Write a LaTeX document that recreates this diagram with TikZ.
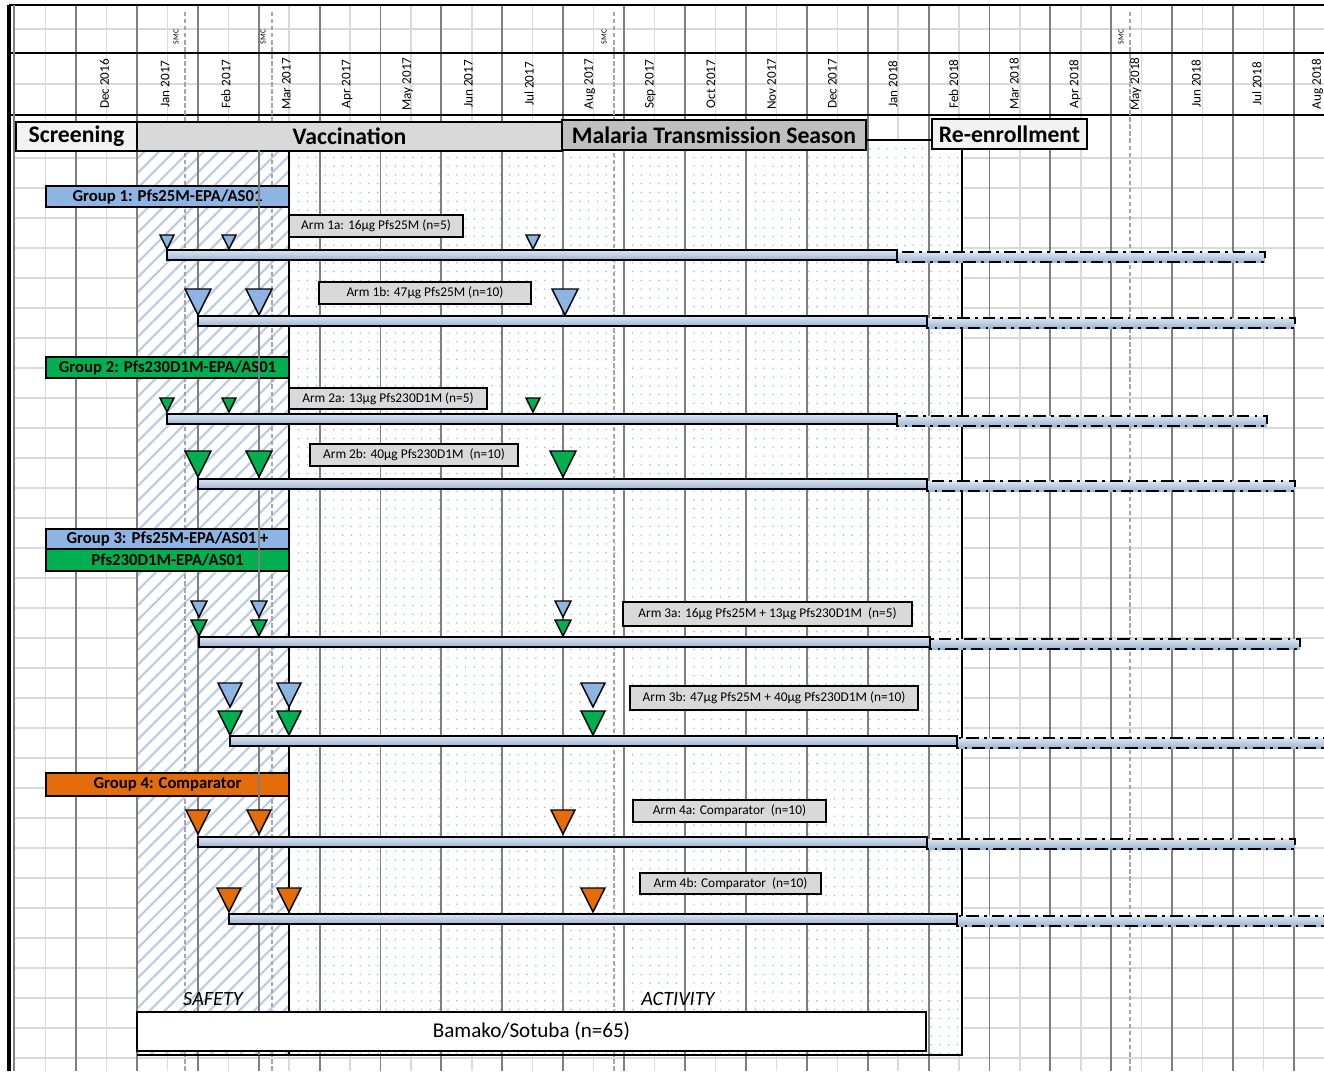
\documentclass[tikz,border=0pt]{standalone}
\usepackage{fontspec}
\setmainfont{Carlito}
\usetikzlibrary{patterns.meta}
\usepackage{xcolor}
\definecolor{gridlight}{HTML}{D9D9D9}
\definecolor{monthline}{HTML}{7F7F7F}
\definecolor{reviewgray}{HTML}{A6A6A6}
\definecolor{grpblue}{HTML}{8DB4E2}
\definecolor{grpgreen}{HTML}{00B050}
\definecolor{grporange}{HTML}{E46C0A}
\definecolor{armgray}{HTML}{D9D9D9}
\definecolor{phaselight}{HTML}{F2F2F2}
\definecolor{phasemid}{HTML}{D9D9D9}
\definecolor{phasedark}{HTML}{BFBFBF}
\definecolor{barhi}{HTML}{DCE6F2}
\definecolor{barlo}{HTML}{9DB5D5}
\definecolor{hatchblue}{HTML}{B8CCE4}
\definecolor{dotblue}{HTML}{95B3D7}

\begin{document}
\begin{tikzpicture}[
  x=0.02cm, y=-0.02cm,
  sz/.style 2 args={minimum width=#1*0.02cm, minimum height=#2*0.02cm},
  box/.style={draw, line width=1pt, inner sep=0pt},
  phase/.style={box, font=\fontsize{13.5}{15}\selectfont\bfseries},
  grp/.style={box, font=\fontsize{9.5}{11}\selectfont\bfseries},
  arm/.style={box, fill=armgray, line width=0.9pt, font=\fontsize{7.6}{9}\selectfont},
  month/.style={rotate=90, inner sep=0pt, font=\fontsize{7.5}{8}\selectfont},
  review/.style={rotate=90, inner sep=0pt, font=\fontsize{4.5}{5}\selectfont},
  tag/.style={inner sep=0pt, font=\fontsize{11.5}{13}\selectfont\itshape},
  bar/.style={draw, line width=1.1pt, top color=barhi, bottom color=barlo},
  barext/.style={bar, dash pattern=on 7pt off 3pt on 1.5pt off 3pt},
  vac/.style={draw, line width=0.8pt},
  gridl/.style={gridlight, line width=0.8pt},
  monthl/.style={monthline, line width=1.1pt},
  reviewl/.style={reviewgray, line width=1.4pt, dash pattern=on 2.5pt off 1.5pt}
]
\useasboundingbox (0,0) rectangle (1324,1071);
\clip (0,0) rectangle (1324,1071);

% light grid
\foreach \k in {-1,...,20}
  \draw[gridl] ({106.45+60.9*\k},5) -- ({106.45+60.9*\k},1071);
\foreach \gy in {29,84}
  \draw[gridl] (14,\gy) -- (1324,\gy);
\foreach \k in {0,...,30}
  \draw[gridl] (14,{158+30*\k}) -- (1324,{158+30*\k});

% safety (hatched) and activity (dotted) windows
\fill[white] (137,150) rectangle (289,1055);
\fill[pattern={Lines[angle=45,distance=6pt,line width=1.2pt]}, pattern color=hatchblue] (137,150) rectangle (289,1055);
\fill[white] (289,140) rectangle (962,1055);
\fill[pattern={Dots[radius=0.45pt,distance=5pt]}, pattern color=dotblue] (289,140) rectangle (962,1055);

% month lines and frame
\foreach \k in {0,...,20}
  \draw[monthl] ({76+60.9*\k},5) -- ({76+60.9*\k},1071);
\draw[line width=1.6pt] (9,5) -- (1324,5);
\draw[line width=1.3pt] (9,53) -- (1324,53);
\draw[line width=1.3pt] (9,115) -- (1324,115);
\draw[line width=1.8pt] (9,5) -- (9,1071);
\draw[monthl] (14,5) -- (14,1071);

% review time points
\foreach \rx in {185,272,614,1130}
  \draw[reviewl] (\rx,12) -- (\rx,1071);
\foreach \rx/\rn in {176/rv1,263/rv2,604/rv3,1121/rv4}
  \node[review] (\rn) at (\rx,37) {SMC};

\draw[line width=1.2pt] (289,150) -- (289,1055);
\draw[line width=1.2pt] (866,140) -- (932,140);
\draw[line width=1.2pt] (962,149) -- (962,1055) -- (137,1055);

\foreach \m [count=\i from 0] in {Dec 2016, Jan 2017, Feb 2017, Mar 2017, Apr 2017, May 2017, Jun 2017, Jul 2017, Aug 2017, Sep 2017, Oct 2017, Nov 2017, Dec 2017, Jan 2018, Feb 2018, Mar 2018, Apr 2018, May 2018, Jun 2018, Jul 2018, Aug 2018}
  \node[month] (m\i) at ({104.5+60.65*\i},84) {\m};

% study phases
\node[phase, fill=phaselight, sz={121}{29}] (screen) at (76.5,136.5) {Screening};
\node[phase, fill=phasemid, sz={425}{29}] (vacc) at (349.5,136.5) {Vaccination};
\node[phase, fill=phasedark, sz={304}{30}] (season) at (714,135) {Malaria Transmission Season};
\node[phase, fill=phaselight, sz={155}{30}] (reenrol) at (1009.5,134) {Re-enrollment};

% groups
\node[grp, fill=grpblue, sz={243}{21}] (g1) at (167.5,196.5) {Group 1: Pfs25M-EPA/AS01};
\node[grp, fill=grpgreen, sz={243}{21}] (g2) at (167.5,367.5) {Group 2: Pfs230D1M-EPA/AS01};
\node[grp, fill=grpblue, sz={243}{20}] (g3a) at (167.5,539) {Group 3: Pfs25M-EPA/AS01 +};
\node[grp, fill=grpgreen, sz={243}{22}] (g3b) at (167.5,560) {Pfs230D1M-EPA/AS01};
\node[grp, fill=grporange, sz={243}{23}] (g4) at (167.5,784.5) {Group 4: Comparator};
\draw[monthline, line width=0.8pt] (259,150) -- (259,1055);

% arms
\node[arm, sz={174}{22}] (a1a) at (376,226) {Arm 1a: 16µg Pfs25M (n=5)};
\node[arm, sz={212}{22}] (a1b) at (425,293) {Arm 1b: 47µg Pfs25M (n=10)};
\node[arm, sz={198}{21}] (a2a) at (388,398.5) {Arm 2a: 13µg Pfs230D1M (n=5)};
\node[arm, sz={208}{22}] (a2b) at (414,455) {Arm 2b: 40µg Pfs230D1M~~(n=10)};
\node[arm, sz={289}{24}] (a3a) at (767.5,614) {Arm 3a: 16µg Pfs25M + 13µg Pfs230D1M~~(n=5)};
\node[arm, sz={288}{24}] (a3b) at (774,698) {Arm 3b: 47µg Pfs25M + 40µg Pfs230D1M (n=10)};
\node[arm, sz={193}{22}] (a4a) at (729.5,811) {Arm 4a: Comparator~~(n=10)};
\node[arm, sz={181}{21}] (a4b) at (730.5,883.5) {Arm 4b: Comparator~~(n=10)};

% follow-up bars: solid to end of season, dash-dot after
\foreach \xs/\xe/\xf/\yb in {167/897/1265/250, 198/927/1295/316, 167/897/1267/414, 198/927/1295/479,
    199/930/1300/637, 230/957/1340/736, 198/927/1295/837, 229/957/1340/914}
{
  \draw[barext] (\xe,{\yb+2}) rectangle (\xf,{\yb+12});
  \draw[bar] (\xs,\yb) rectangle (\xe,{\yb+10});
}

% vaccinations
\foreach \tx/\ty/\tw/\tc in {167/249/7/grpblue, 229/249/7/grpblue, 533/249/7/grpblue,
    198/315/13/grpblue, 259/315/13/grpblue, 565/315/13/grpblue,
    167/412/7/grpgreen, 229/412/7/grpgreen, 533/412/7/grpgreen,
    198/477/13/grpgreen, 259/477/13/grpgreen, 563/477/13/grpgreen,
    199/617/8/grpblue, 259/617/8/grpblue, 563/617/8/grpblue,
    199/636/8/grpgreen, 259/636/8/grpgreen, 563/636/8/grpgreen,
    230/707/12/grpblue, 289/707/12/grpblue, 593/707/12/grpblue,
    230/735/12/grpgreen, 289/735/12/grpgreen, 593/735/12/grpgreen,
    198/834/12/grporange, 259/834/12/grporange, 563/834/12/grporange,
    229/912/12/grporange, 289/912/12/grporange, 593/912/12/grporange}
  \filldraw[vac, fill=\tc] (\tx,\ty) -- ++(-\tw,{-2*\tw}) -- ++({2*\tw},0) -- cycle;

% bottom
\node[tag] (safety) at (213,999) {SAFETY};
\node[tag] (activity) at (678,999) {ACTIVITY};
\node[box, fill=white, sz={789}{39}, font=\fontsize{12}{14}\selectfont] (site) at (531.5,1031.5) {Bamako/Sotuba (n=65)};

\end{tikzpicture}
\end{document}
